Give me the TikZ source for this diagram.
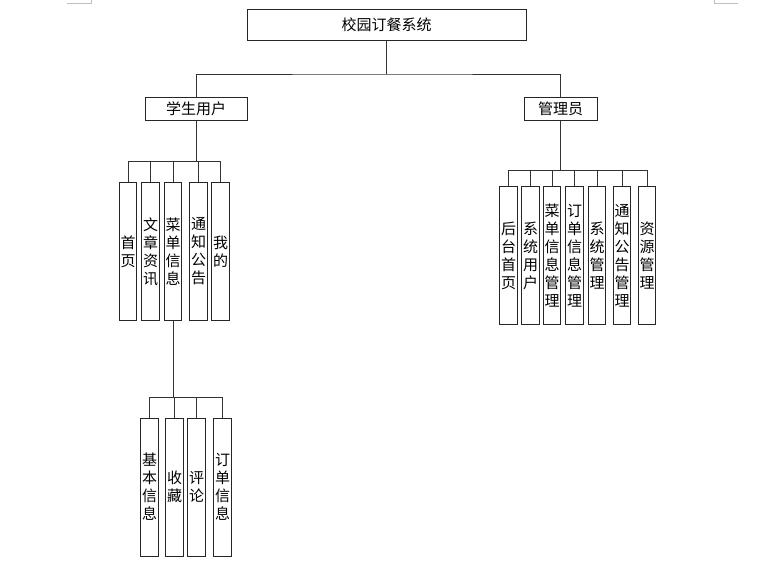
\documentclass[tikz,border=0pt]{standalone}
\usepackage{fontspec}
\newfontfamily\cjk{Noto Sans CJK SC}
\tikzset{
    top-box/.style = {draw=black!85, fill=white, line width=1pt, rectangle, inner sep=0pt, minimum width=279pt, minimum height=31pt, font=\cjk\fontsize{15}{18}\selectfont},
    role-box/.style = {draw=black!85, fill=white, line width=1pt, rectangle, inner sep=0pt, minimum height=22.5pt, font=\cjk\fontsize{15}{18}\selectfont},
    item-box/.style = {draw=black!85, fill=white, line width=1pt, rectangle, inner sep=1pt, minimum width=17.5pt, minimum height=138pt, text width=15pt, align=center, font=\cjk\fontsize{15}{18}\selectfont},
    tree-line/.style = {draw=black!80, line width=1pt},
}
\begin{document}
\begin{tikzpicture}[x=1pt, y=-1pt]
\useasboundingbox (0,0) rectangle (772,574);
% page corner marks
\draw[black!25] (67,3) -- (91,3) -- (91,0);
\draw[black!25] (714,0) -- (714,3) -- (738,3);

% top and roles
\node[top-box] (sys) at (386.5,24.5) {校园订餐系统};
\node[role-box, minimum width=102pt] (student) at (196,109) {学生用户};
\node[role-box, minimum width=73pt] (admin) at (560.5,109) {管理员};
\coordinate (sys-bar) at (386.5,74);
\draw[tree-line] (sys.south) -- (sys-bar);
\draw[tree-line] (student.north) |- (sys-bar) -| (admin.north);

% student items
\foreach \name/\x/\txt in {s-home/128/{首\\页}, s-news/150.5/{文\\章\\资\\讯}, s-menu/173/{菜\\单\\信\\息}, s-notice/198.5/{通\\知\\公\\告}, s-mine/220.5/{我\\的}}
    \node[item-box] (\name) at (\x,251.5) {\txt};
\coordinate (stu-bar) at (196,161.5);
\draw[tree-line] (student.south) -- (stu-bar);
\foreach \name in {s-home, s-news, s-menu, s-notice, s-mine}
    \draw[tree-line] (stu-bar) -| (\name.north);

% menu items
\foreach \name/\x/\txt in {m-info/149.5/{基\\本\\信\\息}, m-fav/174.5/{收\\藏}, m-comment/196.5/{评\\论}, m-order/222.5/{订\\单\\信\\息}}
    \node[item-box] (\name) at (\x,487) {\txt};
\coordinate (menu-bar) at (173,397);
\draw[tree-line] (s-menu.south) -- (menu-bar);
\foreach \name in {m-info, m-fav, m-comment, m-order}
    \draw[tree-line] (menu-bar) -| (\name.north);

% admin items
\foreach \name/\x/\txt in {a-home/508.5/{后\\台\\首\\页}, a-user/530.5/{系\\统\\用\\户}, a-menu/552/{菜\\单\\信\\息\\管\\理}, a-order/574.5/{订\\单\\信\\息\\管\\理}, a-system/597/{系\\统\\管\\理}, a-notice/622/{通\\知\\公\\告\\管\\理}, a-res/647/{资\\源\\管\\理}}
    \node[item-box] (\name) at (\x,255.5) {\txt};
\coordinate (adm-bar) at (560.5,170);
\draw[tree-line] (admin.south) -- (adm-bar);
\foreach \name in {a-home, a-user, a-menu, a-order, a-system, a-notice, a-res}
    \draw[tree-line] (adm-bar) -| (\name.north);
\end{tikzpicture}
\end{document}
